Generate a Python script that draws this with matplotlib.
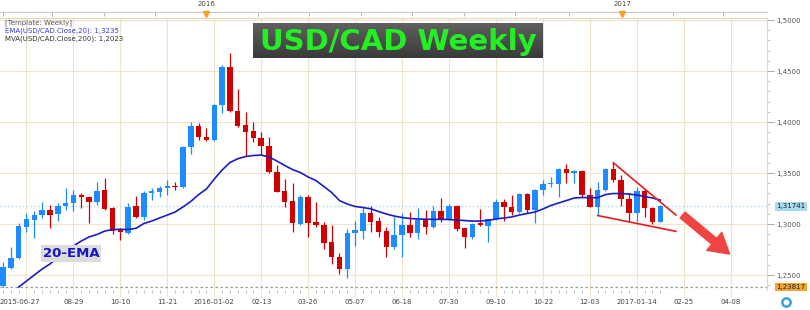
import numpy as np
import pandas as pd
import matplotlib
matplotlib.use("Agg")
import matplotlib.pyplot as plt
import matplotlib.dates as mdates
from matplotlib.colors import LinearSegmentedColormap
from matplotlib.lines import Line2D
from matplotlib.transforms import blended_transform_factory

# ---------------- data (weekly USD/CAD, first candle = week of 2015-06-27) ----------------
first_week = "2015-06-27"
opens = [1.2392, 1.2569, 1.2664, 1.2971, 1.3039, 1.3088, 1.3137, 1.3098, 1.3179, 1.3203,
         1.3284, 1.3262, 1.3219, 1.3327, 1.3154, 1.2948, 1.2915, 1.3170, 1.3072, 1.3301,
         1.3317, 1.3350, 1.3373, 1.3366, 1.3752, 1.3961, 1.3850, 1.3824, 1.4167, 1.4536,
         1.4111, 1.3964, 1.3912, 1.3840, 1.3765, 1.3507, 1.3317, 1.3226, 1.3000, 1.3262,
         1.3017, 1.2987, 1.2821, 1.2674, 1.2556, 1.2909, 1.2934, 1.3105, 1.3029, 1.2931,
         1.2772, 1.2892, 1.2990, 1.2915, 1.3042, 1.2968, 1.3127, 1.3044, 1.3170, 1.2956,
         1.2868, 1.3005, 1.2985, 1.3046, 1.3209, 1.3167, 1.3121, 1.3296, 1.3137, 1.3333,
         1.3392, 1.3392, 1.3536, 1.3497, 1.3520, 1.3284, 1.3170, 1.3333, 1.3536, 1.3431,
         1.3242, 1.3105, 1.3317, 1.3154, 1.3023]
highs = [1.2630, 1.2778, 1.3010, 1.3111, 1.3130, 1.3219, 1.3186, 1.3206, 1.3350, 1.3333,
         1.3307, 1.3275, 1.3415, 1.3448, 1.3167, 1.2961, 1.3203, 1.3275, 1.3324, 1.3350,
         1.3373, 1.3431, 1.3415, 1.3765, 1.4003, 1.3987, 1.3938, 1.4177, 1.4559, 1.4679,
         1.4321, 1.4101, 1.4003, 1.3905, 1.3856, 1.3578, 1.3438, 1.3399, 1.3284, 1.3284,
         1.3219, 1.3023, 1.2990, 1.2719, 1.2948, 1.3032, 1.3164, 1.3177, 1.3072, 1.2974,
         1.3072, 1.3105, 1.3121, 1.3154, 1.3142, 1.3177, 1.3252, 1.3201, 1.3186, 1.2960,
         1.3010, 1.3144, 1.3051, 1.3247, 1.3242, 1.3284, 1.3309, 1.3309, 1.3348, 1.3431,
         1.3464, 1.3546, 1.3588, 1.3529, 1.3529, 1.3350, 1.3415, 1.3546, 1.3595, 1.3480,
         1.3301, 1.3366, 1.3340, 1.3170, 1.3186]
lows = [1.2382, 1.2559, 1.2657, 1.2925, 1.2860, 1.3059, 1.2958, 1.3032, 1.3137, 1.3130,
        1.3154, 1.3013, 1.3186, 1.3137, 1.2899, 1.2843, 1.2902, 1.3056, 1.3039, 1.3235,
        1.3262, 1.3284, 1.3333, 1.3353, 1.3686, 1.3824, 1.3817, 1.3814, 1.4085, 1.4101,
        1.3954, 1.3667, 1.3807, 1.3677, 1.3500, 1.3314, 1.3170, 1.2925, 1.2990, 1.2870,
        1.2974, 1.2752, 1.2608, 1.2510, 1.2468, 1.2784, 1.2850, 1.2925, 1.2870, 1.2674,
        1.2755, 1.2679, 1.2870, 1.2850, 1.2902, 1.2961, 1.3015, 1.3039, 1.2931, 1.2767,
        1.2853, 1.2980, 1.2826, 1.3039, 1.3031, 1.3088, 1.3108, 1.3111, 1.3013, 1.3284,
        1.3366, 1.3268, 1.3405, 1.3399, 1.3268, 1.3162, 1.3088, 1.3326, 1.3415, 1.3177,
        1.3023, 1.3023, 1.3072, 1.3000, 1.3015]
closes = [1.2572, 1.2667, 1.2974, 1.3049, 1.3091, 1.3137, 1.3091, 1.3179, 1.3203, 1.3284,
          1.3262, 1.3219, 1.3324, 1.3147, 1.2934, 1.2925, 1.3164, 1.3072, 1.3301, 1.3324,
          1.3350, 1.3373, 1.3360, 1.3752, 1.3961, 1.3850, 1.3824, 1.4167, 1.4536, 1.4111,
          1.3961, 1.3905, 1.3840, 1.3762, 1.3507, 1.3317, 1.3219, 1.3007, 1.3262, 1.3013,
          1.2987, 1.2817, 1.2674, 1.2556, 1.2909, 1.2941, 1.3105, 1.3023, 1.2925, 1.2778,
          1.2892, 1.2990, 1.2915, 1.3042, 1.2968, 1.3127, 1.3046, 1.3170, 1.2956, 1.2868,
          1.3000, 1.2987, 1.3046, 1.3209, 1.3167, 1.3121, 1.3296, 1.3134, 1.3333, 1.3392,
          1.3405, 1.3536, 1.3497, 1.3520, 1.3284, 1.3170, 1.3333, 1.3536, 1.3431, 1.3242,
          1.3111, 1.3317, 1.3154, 1.3023, 1.31741]

# 20-week EMA as drawn, starting at the third candle
ema_first = 2
ema20 = [1.2382, 1.2441, 1.2500, 1.2559, 1.2608, 1.2676, 1.2735, 1.2784, 1.2833, 1.2873,
         1.2897, 1.2931, 1.2946, 1.2948, 1.2946, 1.2958, 1.3005, 1.3029, 1.3059, 1.3088,
         1.3118, 1.3167, 1.3221, 1.3289, 1.3343, 1.3441, 1.3529, 1.3603, 1.3640, 1.3662,
         1.3672, 1.3676, 1.3657, 1.3618, 1.3574, 1.3534, 1.3505, 1.3461, 1.3426, 1.3368,
         1.3309, 1.3230, 1.3196, 1.3172, 1.3162, 1.3149, 1.3123, 1.3098, 1.3078, 1.3064,
         1.3054, 1.3049, 1.3047, 1.3046, 1.3046, 1.3044, 1.3039, 1.3034, 1.3029, 1.3029,
         1.3036, 1.3049, 1.3059, 1.3069, 1.3088, 1.3103, 1.3118, 1.3147, 1.3181, 1.3206,
         1.3230, 1.3255, 1.3260, 1.3258, 1.3258, 1.3289, 1.3299, 1.3299, 1.3294, 1.3284,
         1.3270, 1.3255, 1.3235]

last_price = 1.31741
low_price = 1.23817

# date axis labels
grid_dates = ["2015-07-18", "2015-08-29", "2015-10-10", "2015-11-21", "2016-01-02",
              "2016-02-13", "2016-03-26", "2016-05-07", "2016-06-18", "2016-07-30",
              "2016-09-10", "2016-10-22", "2016-12-03", "2017-01-14", "2017-02-25",
              "2017-04-08"]
grid_labels = ["", "08-29", "10-10", "11-21", "2016-01-02", "02-13", "03-26", "05-07",
               "06-18", "07-30", "09-10", "10-22", "12-03", "2017-01-14", "02-25", "04-08"]
year_dates = ["2015-12-26", "2017-01-01"]
year_labels = ["2016", "2017"]
top_tick_dates = ["2015-06-27", "2015-08-10", "2015-09-25", "2015-11-10", "2015-12-26",
                  "2016-02-10", "2016-03-27", "2016-05-12", "2016-06-27", "2016-08-12",
                  "2016-09-27", "2016-11-14", "2017-01-01", "2017-02-15", "2017-04-01"]

# hand drawn wedge and arrow
wedge_upper_x = ["2016-12-24", "2017-02-18"]
wedge_upper_y = [1.3601, 1.3088]
wedge_lower_x = ["2016-12-10", "2017-02-18"]
wedge_lower_y = [1.3083, 1.2928]
arrow_x = ["2017-02-24", "2017-04-07"]
arrow_y = [1.3088, 1.2706]

# ---------------- figure ----------------
BLUE = "#1e8cff"
RED = "#d00000"
GRID = "#efe3cc"

weeks = pd.date_range(first_week, periods=len(closes), freq="7D")
x = mdates.date2num(weeks)
o = np.array(opens)
c = np.array(closes)
colors = [BLUE if cc >= oo else RED for oo, cc in zip(o, c)]

fig = plt.figure(figsize=(8.1, 3.1), dpi=100)
ax = fig.add_axes([0, 1 - 290 / 310, 767 / 810, 272 / 310])

# candles
ax.vlines(x, lows, highs, colors=colors, lw=0.9, zorder=3)
ax.bar(x, np.abs(c - o) + 0.0002, bottom=np.minimum(o, c), width=4.9,
       color=colors, zorder=4, linewidth=0)

# 20 EMA
ax.plot(x[ema_first:], ema20, color="#1c1cc4", lw=1.2, zorder=5)

# reference lines
ax.axhline(last_price, color="#9fd2ea", ls=(0, (1, 2)), lw=0.9, zorder=1)
ax.axhline(low_price, color="#9a9a9a", ls=(0, (2, 2)), lw=0.9, zorder=1)

# wedge + arrow
ax.plot(pd.to_datetime(wedge_upper_x), wedge_upper_y, color="#e41e1e", lw=1.2, zorder=6)
ax.plot(pd.to_datetime(wedge_lower_x), wedge_lower_y, color="#e41e1e", lw=1.2, zorder=6)
ax.annotate("", xy=(pd.Timestamp(arrow_x[1]), arrow_y[1]),
            xytext=(pd.Timestamp(arrow_x[0]), arrow_y[0]),
            arrowprops=dict(arrowstyle="simple,head_length=1.1,head_width=1.3,tail_width=0.42",
                            color="#ef4444", mutation_scale=13, shrinkA=0, shrinkB=0),
            zorder=6)

ax.text(pd.Timestamp("2015-08-27"), 1.2711, "20-EMA", color="#1414c0", fontsize=9.5,
        fontweight="bold", ha="center", va="center", zorder=7,
        bbox=dict(facecolor="#dcdcdc", edgecolor="none", pad=1.2))

# axes limits / grid
start = pd.Timestamp(first_week)
ax.set_xlim(mdates.date2num(start - pd.Timedelta(days=2.7)),
            mdates.date2num(start + pd.Timedelta(days=683.5)))
ax.set_ylim(1.2353, 1.5020)

ax.set_xticks(mdates.date2num(pd.to_datetime(grid_dates)))
ax.set_xticklabels(grid_labels)
ax.set_xticks(x, minor=True)
ax.tick_params(axis="x", which="major", length=5, width=0.8, color=GRID,
               labelsize=5, labelcolor="#444444", pad=1.5)
ax.tick_params(axis="x", which="minor", length=2.5, width=0.6, color="#b5b5b5")

ax.yaxis.tick_right()
ax.set_yticks([1.25, 1.30, 1.35, 1.40, 1.45, 1.50])
ax.set_yticklabels([f"{v:.4f}".replace(".", ",") for v in [1.25, 1.30, 1.35, 1.40, 1.45, 1.50]])
ax.set_yticks(np.arange(1.24, 1.501, 0.01), minor=True)
ax.tick_params(axis="y", which="major", length=5, width=0.6, color="#999999",
               labelsize=5, labelcolor="#555555", pad=1.5)
ax.tick_params(axis="y", which="minor", length=2.5, width=0.5, color="#aaaaaa")

ax.grid(True, which="major", color=GRID, lw=0.8, zorder=0)
ax.set_axisbelow(True)
for s in ["left", "bottom"]:
    ax.spines[s].set_visible(False)
for s in ["top", "right"]:
    ax.spines[s].set_color("#e8d6b0")
    ax.spines[s].set_linewidth(0.8)

# price boxes on the right
tr = blended_transform_factory(ax.transAxes, ax.transData)
ax.text(1.012, last_price, "1,31741", transform=tr, fontsize=5, color="#222222",
        ha="left", va="center", bbox=dict(facecolor="#a8daf0", edgecolor="none", pad=1.0))
ax.text(1.012, low_price, "1,23817", transform=tr, fontsize=5, color="#222222",
        ha="left", va="center", bbox=dict(facecolor="#f4a531", edgecolor="none", pad=1.0))

# first date label at the left edge
ax.text(0.0, -12 / 272, first_week, transform=ax.transAxes, fontsize=5, color="#444444",
        ha="left", va="center")

# top time axis
top = ax.secondary_xaxis(1 + 6 / 272)
top.set_xticks(mdates.date2num(pd.to_datetime(top_tick_dates)))
top.set_xticklabels([""] * len(top_tick_dates))
top.tick_params(direction="in", length=3, width=0.6, color="#aaaaaa")
top.spines["top"].set_color("#c8c8c8")
top.spines["top"].set_linewidth(0.8)
trx = blended_transform_factory(ax.transData, ax.transAxes)
yd = mdates.date2num(pd.to_datetime(year_dates))
ax.plot(yd, [1.0147] * 2, ls="none", marker="v", ms=4.5, color="#f5a020",
        transform=trx, clip_on=False, zorder=8)
for xd, lab in zip(yd, year_labels):
    ax.text(xd, 1 + 13.5 / 272, lab, transform=trx, fontsize=5, color="#444444",
            ha="center", va="center")

# indicator legend, top-left
fig.text(5 / 810, 1 - 23 / 310, "[Template: Weekly]", fontsize=5, color="#555555", va="center")
fig.text(5 / 810, 1 - 31 / 310, "EMA(USD/CAD.Close,20): 1,3235", fontsize=5,
         color="#3a3ad0", va="center")
fig.text(5 / 810, 1 - 39 / 310, "MVA(USD/CAD.Close,200): 1,2023", fontsize=5,
         color="#333333", va="center")

# title banner
tax = fig.add_axes([253 / 810, 1 - 58 / 310, 290 / 810, 35 / 310])
cmap = LinearSegmentedColormap.from_list("banner", ["#3a3a3a", "#606060"])
tax.imshow(np.linspace(0, 1, 64).reshape(-1, 1), cmap=cmap, aspect="auto",
           extent=[0, 1, 0, 1], origin="lower")
tax.axis("off")
tax.text(0.5, 0.47, "USD/CAD Weekly", transform=tax.transAxes, fontsize=21,
         fontweight="bold", color="#22f022", ha="center", va="center")

# little widget ring bottom-right
fig.add_artist(Line2D([786 / 810], [1 - 302 / 310], marker="o", ms=6, mew=1.8,
                      mfc="none", mec="#3aa0e0", transform=fig.transFigure))

fig.savefig("out.png", dpi=100)
